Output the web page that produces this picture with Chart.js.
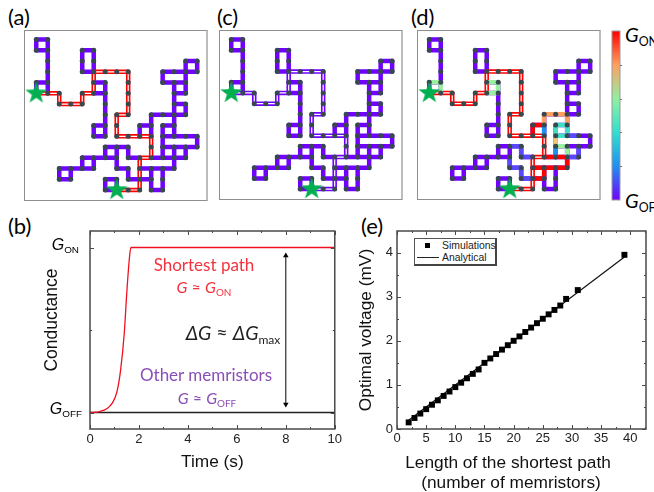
<!DOCTYPE html>
<html>
<head>
<meta charset="utf-8">
<script src="https://cdn.jsdelivr.net/npm/chart.js@4"></script>
<style>
  html, body { margin: 0; background: #fff; }
  body { position: relative; width: 654px; height: 492px; overflow: hidden; }
  canvas { position: absolute; }
  .net { position: absolute; box-sizing: border-box; border: 1px solid #8e8e8e; border-right: 2px solid #bdbdbd; }
  .net canvas { left: 0; top: 0; }
  .t { position: absolute; white-space: nowrap; line-height: 1; }
  .c { transform: translate(-50%, -50%); }
  .lato { font-family: Lato, sans-serif; }
  .arial { font-family: "Liberation Sans", Arial, sans-serif; }
  .t sub { font-size: 0.62em; vertical-align: -0.35em; line-height: 0; font-style: normal; }
  i { font-style: italic; }
  #legend { position: absolute; left: 414px; top: 238px; width: 83px; height: 28px; box-sizing: border-box;
            border: 1px solid #555; border-right: 2px solid #444; border-bottom: 2px solid #444; background: #fff;
            font: 10.4px "Liberation Sans", Arial, sans-serif; color: #222; }
  #legend .mark { position: absolute; left: 10px; top: 4px; width: 5px; height: 5px; background: #000; }
  #legend .rule { position: absolute; left: 2px; top: 18px; width: 22px; height: 1px; background: #222; }
  #legend span { position: absolute; left: 27px; line-height: 1; }
</style>
</head>
<body>

<div class="t lato" style="left:8px;top:6px;font-size:22px">(a)</div>
<div class="t lato" style="left:217px;top:6px;font-size:22px">(c)</div>
<div class="t lato" style="left:411px;top:6px;font-size:22px">(d)</div>
<div class="t lato" style="left:8px;top:215px;font-size:22px">(b)</div>
<div class="t lato" style="left:361px;top:215px;font-size:22px">(e)</div>

<div class="net" style="left:24px;top:30px;width:184px;height:171px"><canvas id="net-a"></canvas></div>
<div class="net" style="left:219px;top:30px;width:184px;height:170px"><canvas id="net-c"></canvas></div>
<div class="net" style="left:417px;top:30px;width:184px;height:170px"><canvas id="net-d"></canvas></div>

<canvas id="colorbar" style="left:610px;top:30px"></canvas>
<div class="t lato" style="left:625px;top:24px;font-size:20px"><i>G</i><sub>ON</sub></div>
<div class="t lato" style="left:625px;top:190px;font-size:20px"><i>G</i><sub>OFF</sub></div>

<canvas id="chart-b" style="left:0;top:210px"></canvas>
<canvas id="chart-e" style="left:345px;top:210px"></canvas>

<div class="t arial" style="right:575px;top:237px;font-size:16px"><i>G</i><sub>ON</sub></div>
<div class="t arial" style="right:572px;top:401px;font-size:16px"><i>G</i><sub>OFF</sub></div>
<div class="t arial c" style="left:52px;top:320px;font-size:17.5px;color:#111;transform:translate(-50%,-50%) rotate(-90deg)">Conductance</div>
<div class="t lato c" style="left:204px;top:264px;font-size:17px;color:#f5333f">Shortest path</div>
<div class="t lato c" style="left:204px;top:287px;font-size:16px;color:#f5333f"><i>G</i> ≈ <i>G</i><sub>ON</sub></div>
<div class="t lato c" style="left:233px;top:333px;font-size:19.5px;color:#222"><i>ΔG</i> ≈ <i>ΔG</i><sub>max</sub></div>
<div class="t lato c" style="left:206px;top:374px;font-size:17px;color:#8a4fb5">Other memristors</div>
<div class="t lato c" style="left:207px;top:398px;font-size:16px;color:#8a4fb5"><i>G</i> ≈ <i>G</i><sub>OFF</sub></div>
<div class="t arial c" style="left:508px;top:463px;font-size:17.3px;color:#111">Length of the shortest path</div>
<div class="t arial c" style="left:511px;top:483px;font-size:17.3px;color:#111">(number of memristors)</div>

<div id="legend">
  <div class="mark"></div><span style="top:2px">Simulations</span>
  <div class="rule"></div><span style="top:14px">Analytical</span>
</div>

<script>
// memristor network, nodes as [column, row] on a 15 x 15 grid
const shortestPath = [[0,5],[1,5],[2,5],[2,6],[3,6],[4,6],[4,5],[5,5],[5,4],[5,3],[6,3],[7,3],[8,3],[8,4],[8,5],[8,6],[8,7],[7,7],[7,8],[7,9],[8,9],[9,9],[10,9],[10,10],[10,11],[9,11],[9,12],[9,13],[9,14],[8,14],[7,14]];

const otherWires = [
  [[0,0],[1,0],[1,1],[0,1],[0,0]],
  [[1,1],[1,2],[1,3],[1,4],[1,5]],
  [[0,5],[0,4],[1,4]],
  [[5,3],[4,3],[4,2],[4,1],[5,1],[5,2],[5,3]],
  [[5,4],[6,4],[6,5],[5,5]],
  [[6,5],[6,6],[6,7],[6,8],[6,9],[5,9],[5,8],[6,8]],
  [[13,3],[13,2],[14,2],[14,3],[13,3],[12,3],[11,3],[11,4],[12,4],[13,4],[13,3]],
  [[12,4],[12,5],[13,5],[13,4]],
  [[12,5],[12,6],[13,6],[13,7],[12,7],[12,6]],
  [[12,7],[11,7],[10,7],[10,8],[10,9]],
  [[10,8],[9,8],[9,9]],
  [[12,7],[12,8],[12,9]],
  [[12,8],[11,8],[11,9],[11,10],[11,11]],
  [[11,9],[12,9],[13,9],[14,9],[14,10],[13,10],[12,10],[11,10]],
  [[12,10],[12,11]],
  [[13,10],[13,11]],
  [[10,11],[11,11],[12,11],[13,11]],
  [[12,11],[12,12],[11,12],[10,12],[9,12]],
  [[10,12],[10,13],[10,14],[11,14],[11,13],[11,12]],
  [[9,13],[10,13]],
  [[6,11],[6,10],[7,10],[8,10],[8,11],[9,11]],
  [[4,11],[5,11],[6,11],[7,11],[7,10]],
  [[7,11],[7,12],[8,12],[8,13],[9,13]],
  [[4,11],[4,12],[5,12],[5,11]],
  [[4,12],[3,12],[2,12],[2,13],[3,13],[3,12]],
  [[7,14],[6,14],[6,13],[7,13],[7,14]],
];

const startNodes = [[0,5],[7,14]];

// panel (d): conductance of the wires that are not fully off, by colour
const dRed    = [[[9,8],[10,8]], [[9,8],[9,9]], [[10,11],[11,11],[12,11],[12,12],[11,12],[10,12],[9,12]], [[10,12],[10,13],[9,13]]];
const dOrange = [[[10,8],[10,7],[11,7],[12,7],[12,8]]];
const dYellow = [[[11,9],[11,10]]];
const dGreen  = [[[0,4],[1,4],[1,5]], [[5,4],[6,4],[6,5],[5,5]], [[11,10],[12,10],[12,11]]];
const dTeal   = [[[12,9],[12,8],[11,8],[11,9],[12,9]]];
const dBlue   = [[[10,8],[10,9]], [[11,10],[11,11]]];
const dIndigo = [[[12,9],[13,9]], [[12,11],[13,11],[13,10]], [[7,11],[7,12],[8,12],[8,13],[9,13]], [[7,10],[8,10],[8,11],[9,11]]];

const colorbarStops = ['#7000ff', '#2090f0', '#30e0d0', '#90f0a0', '#ffa060', '#ff0000'];
const colorbarTicks = [0.2, 0.4, 0.6, 0.8];

// panel (b)
const timeS       = [0, 0.4, 0.7, 0.9, 1.1, 1.25, 1.4, 1.5, 1.6, 1.67, 10];
const shortestG   = [0, 0.006, 0.024, 0.055, 0.125, 0.257, 0.48, 0.72, 0.92, 1, 1];
const otherTime   = [0, 10];
const otherG      = [0, 0];
const arrowTime   = [8, 8];
const arrowG      = [0.05, 0.95];
const bXMajor     = [0, 2, 4, 6, 8, 10];
const bXMinor     = [1, 3, 5, 7, 9];
const bYMajor     = [0, 1];
const bYMinor     = [0.5];

// panel (e)
const pathLength   = [2, 3, 4, 5, 6, 7, 8, 9, 10, 11, 12, 13, 14, 15, 16, 17, 18, 19, 20, 21, 22, 23, 24, 25, 26, 27, 28, 29, 31, 39];
const simVoltage   = [0.15, 0.25, 0.35, 0.45, 0.55, 0.65, 0.75, 0.85, 0.95, 1.05, 1.15, 1.25, 1.35, 1.5, 1.6, 1.7, 1.8, 1.9, 2.0, 2.1, 2.2, 2.3, 2.4, 2.5, 2.6, 2.7, 2.8, 2.95, 3.15, 3.95];
const fitLength    = [2, 39];
const fitVoltage   = [0.2, 3.9];
const eXMajor      = [0, 5, 10, 15, 20, 25, 30, 35, 40];
const eXMinor      = [2.5, 7.5, 12.5, 17.5, 22.5, 27.5, 32.5, 37.5, 42.5];
const eYMajor      = [0, 1, 2, 3, 4];
const eYMinor      = [0.5, 1.5, 2.5, 3.5];

const PURPLE = '#7000ff';
const NODE   = '#37484f';
const AXIS   = '#4a4a4a';

function toPoints(line) {
  return line.map(([x, y]) => ({ x, y }));
}

function wire(line, color, width) {
  return { data: toPoints(line), showLine: true, borderColor: color, borderWidth: width, pointRadius: 0, borderCapStyle: 'round', borderJoinStyle: 'round' };
}

function makeStar() {
  const c = document.createElement('canvas');
  c.width = c.height = 24;
  const ctx = c.getContext('2d');
  ctx.beginPath();
  for (let i = 0; i < 10; i++) {
    const r = i % 2 ? 4.6 : 11.5;
    const a = -Math.PI / 2 + i * Math.PI / 5;
    ctx.lineTo(12 + r * Math.cos(a), 12 + r * Math.sin(a));
  }
  ctx.closePath();
  ctx.fillStyle = '#00b050';
  ctx.fill();
  return c;
}

function drawNetwork(id, w, h, pathColor, recolor) {
  const all = [...otherWires, shortestPath];
  const seen = new Map();
  all.flat().forEach(([x, y]) => seen.set(`${x},${y}`, { x, y }));

  const datasets = otherWires.map(l => wire(l, PURPLE, 4.5));
  datasets.push(wire(shortestPath, pathColor, 4.5));
  recolor.forEach(([color, lines]) => lines.forEach(l => datasets.push(wire(l, color, 4.5))));
  datasets.push(wire(shortestPath, '#ffffff', 1.2));
  datasets.push({ data: [...seen.values()], pointRadius: 2.5, pointBackgroundColor: NODE, pointBorderWidth: 0 });
  datasets.push({ data: toPoints(startNodes), pointStyle: makeStar(), pointRadius: 10 });
  // Chart.js paints the first dataset last
  datasets.reverse();

  const canvas = document.getElementById(id);
  canvas.width = w;
  canvas.height = h;
  new Chart(canvas, {
    type: 'scatter',
    data: { datasets },
    options: {
      responsive: false,
      animation: false,
      layout: { padding: 0, autoPadding: false },
      plugins: { legend: { display: false }, tooltip: { enabled: false } },
      scales: {
        x: { display: false, min: -0.98, max: 14.77 },
        y: { display: false, reverse: true, min: -0.8, max: 14.93 },
      },
    },
  });
}

// frame with inward ticks on all four sides, placed through the chart's scales
const framePlugin = {
  id: 'frame',
  afterDatasetsDraw(chart, args, opts) {
    const { ctx, chartArea: a, scales } = chart;
    ctx.save();
    ctx.strokeStyle = AXIS;
    ctx.lineWidth = 1;
    const tick = (x1, y1, x2, y2) => {
      ctx.beginPath();
      ctx.moveTo(x1, y1);
      ctx.lineTo(x2, y2);
      ctx.stroke();
    };
    const xTicks = (vals, len) => vals.forEach(v => {
      const x = Math.round(scales.x.getPixelForValue(v)) + 0.5;
      tick(x, a.bottom, x, a.bottom - len);
      tick(x, a.top, x, a.top + len);
    });
    const yTicks = (vals, len) => vals.forEach(v => {
      const y = Math.round(scales.y.getPixelForValue(v)) + 0.5;
      tick(a.left, y, a.left + len, y);
      tick(a.right, y, a.right - len, y);
    });
    xTicks(opts.xMajor, 4);
    xTicks(opts.xMinor, 2);
    yTicks(opts.yMajor, 4);
    yTicks(opts.yMinor, 2);
    ctx.lineWidth = 1.5;
    ctx.strokeRect(a.left, a.top, a.right - a.left, a.bottom - a.top);
    ctx.restore();
  },
};

function plotScales(x, y) {
  const fontFamily = '"Liberation Sans", Arial, sans-serif';
  const axis = (cfg, size, isX) => ({
    type: 'linear',
    min: cfg.min,
    max: cfg.max,
    grid: { display: false, drawTicks: false },
    border: { display: false },
    afterBuildTicks: s => { s.ticks = cfg.ticks.map(value => ({ value })); },
    ticks: {
      display: cfg.showLabels !== false,
      color: '#222',
      padding: cfg.labelPad,
      maxRotation: 0,
      autoSkip: false,
      font: { family: fontFamily, size: 13 },
      callback: v => String(v),
    },
    title: { display: !!cfg.title, text: cfg.title, color: '#111', padding: cfg.titlePad, font: { family: fontFamily, size: 17.3 } },
    afterFit: s => { if (isX) s.height = size; else s.width = size; },
  });
  return { x: axis(x, x.size, true), y: axis(y, y.size, false) };
}

function drawConductance() {
  const canvas = document.getElementById('chart-b');
  canvas.width = 345;
  canvas.height = 282;
  new Chart(canvas, {
    type: 'scatter',
    data: {
      datasets: [
        { data: timeS.map((x, i) => ({ x, y: shortestG[i] })), showLine: true, borderColor: '#f01020', borderWidth: 1.3, pointRadius: 0, cubicInterpolationMode: 'monotone' },
        { data: otherTime.map((x, i) => ({ x, y: otherG[i] })), showLine: true, borderColor: '#222', borderWidth: 1.3, pointRadius: 0 },
        {
          data: arrowTime.map((x, i) => ({ x, y: arrowG[i] })),
          showLine: true, borderColor: '#000', borderWidth: 1,
          pointStyle: 'triangle', pointRadius: 3.2, pointBackgroundColor: '#000', pointBorderWidth: 0, pointRotation: [180, 0],
        },
      ],
    },
    options: {
      responsive: false,
      animation: false,
      layout: { padding: { top: 21, right: 9, bottom: 0, left: 0 }, autoPadding: false },
      plugins: {
        legend: { display: false },
        tooltip: { enabled: false },
        frame: { xMajor: bXMajor, xMinor: bXMinor, yMajor: bYMajor, yMinor: bYMinor },
      },
      scales: plotScales(
        { min: 0, max: 10, ticks: bXMajor, title: 'Time (s)', size: 63, labelPad: 3, titlePad: { top: 0, bottom: 19 } },
        { min: -0.1, max: 1.1, ticks: bYMajor, showLabels: false, size: 90, labelPad: 0 },
      ),
    },
    plugins: [framePlugin],
  });
}

function drawVoltage() {
  const canvas = document.getElementById('chart-e');
  canvas.width = 309;
  canvas.height = 282;
  new Chart(canvas, {
    type: 'scatter',
    data: {
      datasets: [
        { label: 'Simulations', data: pathLength.map((x, i) => ({ x, y: simVoltage[i] })), pointStyle: 'rect', pointRadius: 4.2, pointBackgroundColor: '#000', pointBorderWidth: 0 },
        { label: 'Analytical', data: fitLength.map((x, i) => ({ x, y: fitVoltage[i] })), showLine: true, borderColor: '#111', borderWidth: 1.2, pointRadius: 0 },
      ],
    },
    options: {
      responsive: false,
      animation: false,
      layout: { padding: { top: 21, right: 8, bottom: 0, left: 0 }, autoPadding: false },
      plugins: {
        legend: { display: false },
        tooltip: { enabled: false },
        frame: { xMajor: eXMajor, xMinor: eXMinor, yMajor: eYMajor, yMinor: eYMinor },
      },
      scales: plotScales(
        { min: 0, max: 42.7, ticks: eXMajor, size: 63, labelPad: 2 },
        { min: 0, max: 4.49, ticks: eYMajor, title: 'Optimal voltage (mV)', size: 52, labelPad: 4, titlePad: { top: 11, bottom: 0 } },
      ),
    },
    plugins: [framePlugin],
  });
}

function drawColorbar() {
  const canvas = document.getElementById('colorbar');
  canvas.width = 14;
  canvas.height = 171;
  const fill = ctx => {
    const area = ctx.chart.chartArea;
    if (!area) return colorbarStops[0];
    const g = ctx.chart.ctx.createLinearGradient(0, area.bottom, 0, area.top);
    colorbarStops.forEach((c, i) => g.addColorStop(i / (colorbarStops.length - 1), c));
    return g;
  };
  new Chart(canvas, {
    type: 'bar',
    data: { labels: [''], datasets: [{ data: [1], backgroundColor: fill, barPercentage: 1, categoryPercentage: 1 }] },
    options: {
      responsive: false,
      animation: false,
      layout: { padding: { left: 2, right: 4, top: 1, bottom: 1 }, autoPadding: false },
      plugins: { legend: { display: false }, tooltip: { enabled: false } },
      scales: {
        x: { display: false },
        y: { display: false, min: 0, max: 1 },
      },
    },
    plugins: [{
      id: 'cbTicks',
      afterDatasetsDraw(chart) {
        const { ctx, chartArea: a, scales } = chart;
        ctx.save();
        ctx.strokeStyle = '#666';
        colorbarTicks.forEach(v => {
          const y = Math.round(scales.y.getPixelForValue(v)) + 0.5;
          ctx.beginPath();
          ctx.moveTo(a.right, y);
          ctx.lineTo(a.right + 2, y);
          ctx.stroke();
        });
        ctx.strokeStyle = '#999';
        ctx.strokeRect(a.left, a.top, a.right - a.left, a.bottom - a.top);
        ctx.restore();
      },
    }],
  });
}

drawNetwork('net-a', 181, 169, '#ff0000', []);
drawNetwork('net-c', 181, 168, PURPLE, []);
drawNetwork('net-d', 181, 168, '#ff0000', [
  ['#ff0000', dRed], ['#ffa060', dOrange], ['#f0c878', dYellow], ['#98f0a0', dGreen],
  ['#40e0c8', dTeal], ['#2090f0', dBlue], ['#5848ff', dIndigo],
]);
drawColorbar();
drawConductance();
drawVoltage();
</script>
</body>
</html>
